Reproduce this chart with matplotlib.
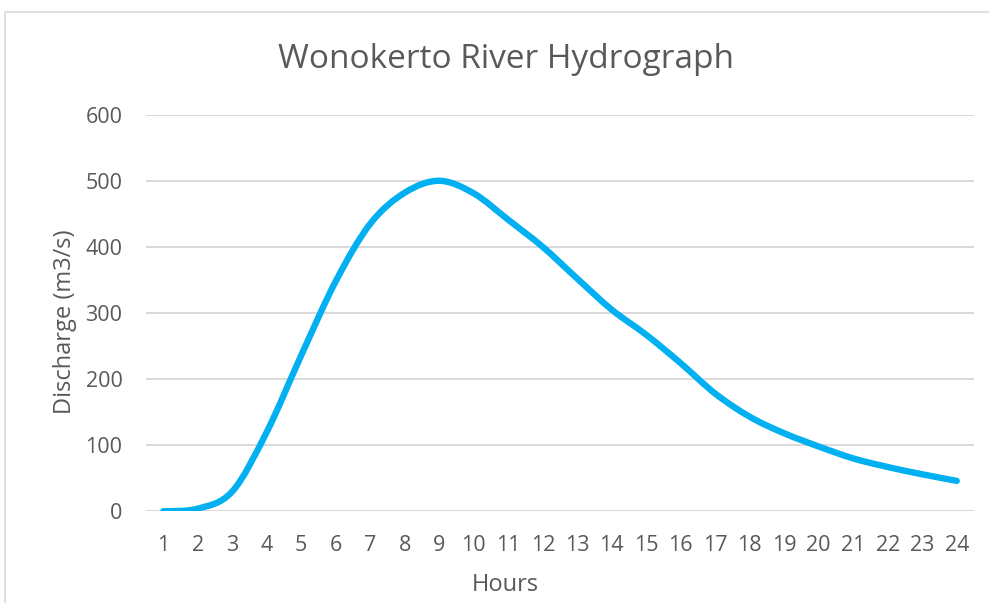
import matplotlib
matplotlib.use("Agg")
import matplotlib.pyplot as plt
from matplotlib.path import Path
from matplotlib.patches import PathPatch, Rectangle
import numpy as np

hours = list(range(1, 25))
hour_labels = [str(h) for h in hours]
discharge = [0, 4, 30, 120, 236, 348, 435, 482, 500, 481, 441, 400,
             352, 305, 267, 224, 178, 143, 118, 98, 80, 67, 56, 46]
y_ticks = [0, 100, 200, 300, 400, 500, 600]

W, H = 989, 603
fig = plt.figure(figsize=(W / 100, H / 100), dpi=100)
fig.patch.set_facecolor("white")

# chart-area border (left and top visible)
fig.add_artist(Rectangle((5 / W, -0.05), 1.2, 1 - 12 / H + 0.05, transform=fig.transFigure,
                         fill=False, edgecolor="#D9D9D9", linewidth=1.2))

left, right = 146 / W, 974 / W
top, bottom = 1 - 114.7 / H, 1 - 511.3 / H
ax = fig.add_axes([left, bottom, right - left, top - bottom])

# smoothed line (Excel-style Bezier through points)
x = np.array(hours, dtype=float)
y = np.array(discharge, dtype=float)
n = len(x)
verts = [(x[0], y[0])]
codes = [Path.MOVETO]
for i in range(n - 1):
    p0 = np.array([x[max(i - 1, 0)], y[max(i - 1, 0)]])
    p1 = np.array([x[i], y[i]])
    p2 = np.array([x[i + 1], y[i + 1]])
    p3 = np.array([x[min(i + 2, n - 1)], y[min(i + 2, n - 1)]])
    c1 = p1 + (p2 - p0) / 6.0
    c2 = p2 - (p3 - p1) / 6.0
    verts += [tuple(c1), tuple(c2), tuple(p2)]
    codes += [Path.CURVE4] * 3
patch = PathPatch(Path(verts, codes), facecolor="none", edgecolor="#00B0F0",
                  linewidth=4.6, capstyle="round", joinstyle="round", zorder=3)
ax.add_patch(patch)

ax.set_xlim(0.5, 24.5)
ax.set_ylim(0, 600)
ax.set_yticks(y_ticks)
ax.set_xticks(hours)
ax.set_xticklabels(hour_labels)
ax.grid(axis="y", color="#D9D9D9", linewidth=1.4)
ax.set_axisbelow(True)
for s in ax.spines.values():
    s.set_visible(False)
ax.tick_params(length=0, labelsize=15.5, labelcolor="#595959")
for lab in ax.get_yticklabels() + ax.get_xticklabels():
    lab.set_fontfamily("Open Sans")
ax.tick_params(axis="y", pad=17)
ax.tick_params(axis="x", pad=17)

fig.text(506 / W, 1 - 60 / H, "Wonokerto River Hydrograph", ha="center", va="center",
         fontsize=24, color="#595959", family="Open Sans")
fig.text(505.5 / W, 1 - 585 / H, "Hours", ha="center", va="center",
         fontsize=17, color="#595959", family="Open Sans")
fig.text(65 / W, 1 - 322 / H, "Discharge (m3/s)", ha="center", va="center", rotation=90,
         fontsize=17, color="#595959", family="Open Sans")

fig.savefig("out.png", dpi=100, facecolor="white")
